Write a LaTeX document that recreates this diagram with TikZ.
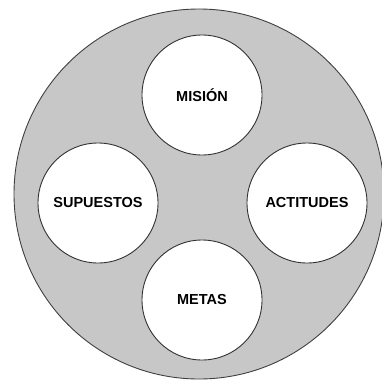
\documentclass[tikz,border=0pt]{standalone}
\usepackage{fontspec}
\setmainfont{Liberation Sans}
\begin{document}
\begin{tikzpicture}[x=1pt,y=-1pt,
  outer/.style={circle,draw=black!75,fill=black!22,line width=0.9pt,minimum size=370pt,inner sep=0pt},
  inner/.style={circle,draw=black!80,fill=white,line width=0.9pt,minimum size=120pt,inner sep=0pt,
    font=\fontsize{14.5}{16}\selectfont\bfseries}]
\useasboundingbox (0,0) rectangle (382,383);
\node[outer] (big) at (199,194) {};
\node[inner] (mision) at (202,95) {MISIÓN};
\node[inner] (supuestos) at (98,203) {SUPUESTOS};
\node[inner] (actitudes) at (307,203) {ACTITUDES};
\node[inner] (metas) at (202,300) {METAS};
\end{tikzpicture}
\end{document}
